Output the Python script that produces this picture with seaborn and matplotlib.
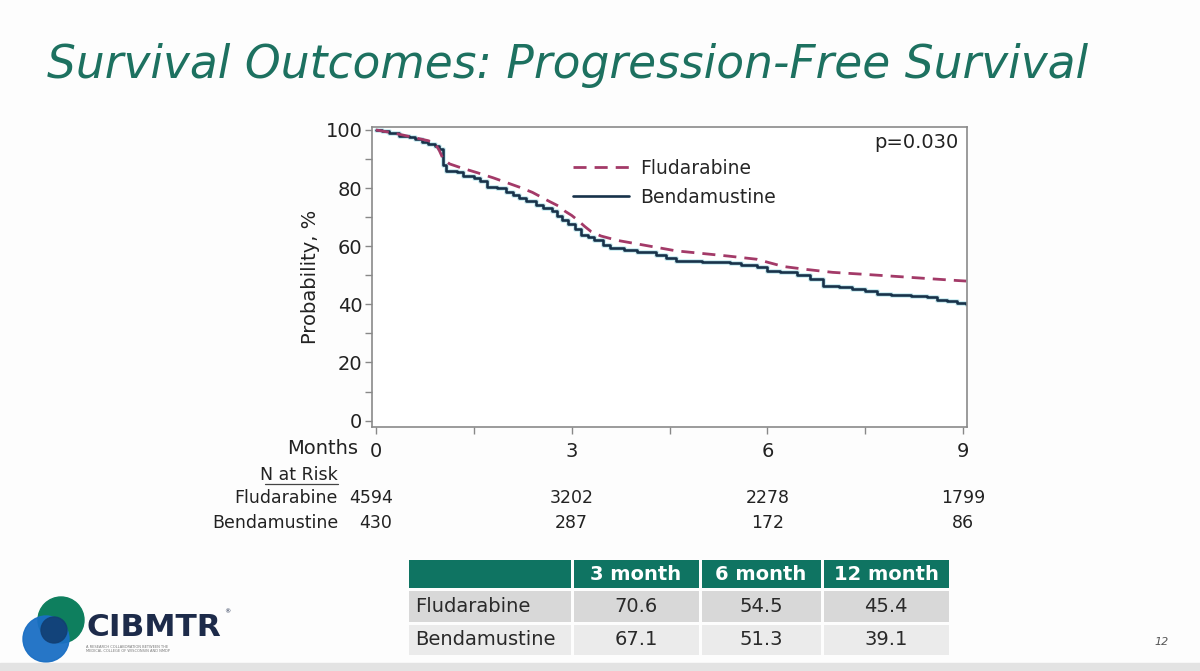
import matplotlib
matplotlib.use("Agg")
import matplotlib.pyplot as plt
import matplotlib.patches as mpatches
import matplotlib.transforms as mtransforms
import seaborn as sns
import pandas as pd
import numpy as np

# ---------------- data ----------------
flu_months = [0, 0.2, 0.4, 0.6, 0.8, 0.9, 0.97, 1.03, 1.13, 1.3, 1.55, 1.8, 2.0, 2.2, 2.4, 2.5,
              2.65, 2.8, 2.9, 3.0, 3.1, 3.2, 3.3, 3.45, 3.7, 4.0, 4.3, 4.6, 5.0, 5.4, 5.84, 6.0,
              6.25, 6.6, 7.0, 7.5, 8.04, 8.5, 8.9, 9.05]
flu_surv = [100, 99.2, 98.3, 97.3, 96.3, 95.5, 93, 90, 88.3, 87, 85.3, 83.5, 81.9, 80.3, 78.5, 77.3,
            75.5, 73.8, 72, 70.6, 68.8, 66.8, 65, 63.5, 62, 60.8, 59.6, 58.4, 57.5, 56.6, 55.5, 54.5,
            53, 52, 51, 50.3, 49.5, 48.8, 48.2, 48]

ben_months = [0, 0.1, 0.2, 0.35, 0.5, 0.6, 0.7, 0.8, 0.9, 0.97, 1.03, 1.08, 1.24, 1.34, 1.5, 1.6,
              1.7, 1.85, 2.0, 2.1, 2.2, 2.3, 2.45, 2.56, 2.7, 2.77, 2.85, 2.95, 3.05, 3.15, 3.25,
              3.35, 3.48, 3.59, 3.8, 4.0, 4.3, 4.45, 4.6, 5.0, 5.43, 5.6, 5.84, 6.0, 6.2, 6.45,
              6.66, 6.86, 7.1, 7.3, 7.5, 7.68, 7.9, 8.2, 8.45, 8.6, 8.75, 8.9, 9.05]
ben_surv = [100, 99.5, 99, 98, 97.5, 97, 96, 95.3, 94.5, 93.5, 88, 86, 85.5, 84, 83.5, 82.5,
            80.5, 80, 78.5, 77.5, 76.5, 75.5, 74, 73, 72, 70.5, 69, 67.5, 66, 64, 63,
            62, 60.5, 59.5, 58.7, 58, 57, 56, 55, 54.7, 54.2, 53.5, 52.7, 51.5, 51, 50,
            48.8, 46.2, 46, 45.3, 44.5, 43.6, 43.3, 43, 42.5, 41.4, 41, 40.4, 40.2]

risk_months = [0, 3, 6, 9]
risk_flu = ["4594", "3202", "2278", "1799"]
risk_ben = ["430", "287", "172", "86"]

table_cols = ["3 month", "6 month", "12 month"]
table_rows = ["Fludarabine", "Bendamustine"]
table_flu = ["70.6", "54.5", "45.4"]
table_ben = ["67.1", "51.3", "39.1"]

# ---------------- style ----------------
sns.set_style("white")
plt.rcParams["font.family"] = ["DejaVu Sans"]

W, H = 1200, 671
fig = plt.figure(figsize=(12, 6.71), dpi=100)
fig.patch.set_facecolor("#fdfdfd")

def fx(px):
    return px / W

def fy(py):
    return 1 - py / H

# slide frame (grey strip bottom)
fig.add_artist(mpatches.Rectangle((0, 0), 1, fy(663), transform=fig.transFigure,
                                  color="#e3e3e3", zorder=0))

# title
fig.text(fx(47), fy(66), "Survival Outcomes: Progression-Free Survival", fontsize=32.8,
         style="italic", color="#1d7160", ha="left", va="center")

# ---------------- chart ----------------
ax = fig.add_axes([fx(372), fy(427), fx(967 - 372), (427 - 127) / H])
df_flu = pd.DataFrame({"month": flu_months, "surv": flu_surv})
df_ben = pd.DataFrame({"month": ben_months, "surv": ben_surv})

sns.lineplot(data=df_ben, x="month", y="surv", ax=ax, color="#8fd6e0", lw=3.5, alpha=0.45,
             drawstyle="steps-post", legend=False)
sns.lineplot(data=df_ben, x="month", y="surv", ax=ax, color="#17324a", lw=1.9,
             drawstyle="steps-post", label="Bendamustine")
sns.lineplot(data=df_flu, x="month", y="surv", ax=ax, color="#a33a68", lw=2.0,
             label="Fludarabine")
ax.lines[-1].set_dashes([4.7, 2.9])

ax.set_xlim(-0.06, 9.06)
ax.set_ylim(-2.2, 101)
ax.set_xticks([0, 3, 6, 9])
ax.set_xticks([1.5, 4.5, 7.5], minor=True)
ax.set_yticks([0, 20, 40, 60, 80, 100])
ax.set_yticks([10, 30, 50, 70, 90], minor=True)
ax.tick_params(axis="both", which="both", direction="out", color="#888888", length=5,
               width=1, labelsize=14, labelcolor="#222222", bottom=True, left=True)
ax.tick_params(axis="x", pad=6)
ax.tick_params(axis="y", pad=2)
ax.set_xlabel("")
ax.set_ylabel("Probability, %", fontsize=14, color="#222222", labelpad=4)
for s in ax.spines.values():
    s.set_color("#8a8a8a")
    s.set_linewidth(1.2)

handles, labels = ax.get_legend_handles_labels()
order = [labels.index("Fludarabine"), labels.index("Bendamustine")]
ax.legend([handles[i] for i in order], [labels[i] for i in order], loc="upper left",
          bbox_to_anchor=(0.325, 0.92), frameon=False, fontsize=13.5, handlelength=3.0,
          handletextpad=0.6, labelspacing=0.55, borderaxespad=0)

ax.text(0.985, 0.98, "p=0.030", transform=ax.transAxes, ha="right", va="top",
        fontsize=14, color="#222222")

# Months label + number at risk
trans = mtransforms.blended_transform_factory(ax.transData, fig.transFigure)
fig.text(fx(358), fy(449), "Months", ha="right", va="center", fontsize=14, color="#222222")
fig.text(fx(338), fy(475), "N at Risk", ha="right", va="center", fontsize=12.5,
         color="#222222")
fig.add_artist(plt.Line2D([fx(265), fx(338)], [fy(484), fy(484)], transform=fig.transFigure,
                          color="#444444", lw=0.9))
fig.text(fx(338), fy(498), "Fludarabine", ha="right", va="center", fontsize=12.5,
         color="#222222")
fig.text(fx(338), fy(523), "Bendamustine", ha="right", va="center", fontsize=12.5,
         color="#222222")
for m, a, b in zip(risk_months, risk_flu, risk_ben):
    dx = -0.08 if m == 0 else 0
    ax.text(m + dx, fy(498), a, transform=trans, ha="center", va="center", fontsize=12.5,
            color="#222222")
    ax.text(m, fy(523), b, transform=trans, ha="center", va="center", fontsize=12.5,
            color="#222222")

# ---------------- summary table ----------------
col_edges = [407, 572, 700, 822, 950]
row_edges = [558, 589, 623, 656]
header_color = "#0f7462"
row_colors = ["#d8d8d8", "#ebebeb"]
gap = 1.5
for r in range(3):
    for c in range(4):
        x0, x1 = col_edges[c], col_edges[c + 1]
        y0, y1 = row_edges[r], row_edges[r + 1]
        color = header_color if r == 0 else row_colors[r - 1]
        fig.add_artist(mpatches.Rectangle((fx(x0 + gap), fy(y1 - gap)), fx(x1 - x0 - 2 * gap),
                                          (y1 - y0 - 2 * gap) / H, transform=fig.transFigure,
                                          color=color, lw=0))
for c, t in enumerate(table_cols):
    xc = (col_edges[c + 1] + col_edges[c + 2]) / 2
    fig.text(fx(xc), fy(574), t, ha="center", va="center", fontsize=14, fontweight="bold",
             color="white")
for r, (name, vals) in enumerate(zip(table_rows, [table_flu, table_ben])):
    yc = (row_edges[r + 1] + row_edges[r + 2]) / 2
    fig.text(fx(415), fy(yc), name, ha="left", va="center", fontsize=14, color="#2a2a2a")
    for c, v in enumerate(vals):
        xc = (col_edges[c + 1] + col_edges[c + 2]) / 2
        fig.text(fx(xc), fy(yc), v, ha="center", va="center", fontsize=14, color="#2a2a2a")

# ---------------- logo ----------------
logo = fig.add_axes([0, 0, 1, 1], zorder=-1)
logo.set_xlim(0, W)
logo.set_ylim(H, 0)
logo.axis("off")
logo.add_patch(mpatches.Circle((61, 620), 23, color="#0e7f5e"))
logo.add_patch(mpatches.Circle((46, 639), 23, color="#1a6fc4", alpha=0.95))
logo.add_patch(mpatches.Circle((54, 630), 13, color="#123f73", alpha=0.9))
logo.text(86, 627, "CIBMTR", fontsize=22.5, fontweight="bold", color="#1d2b4a",
          ha="left", va="center")
logo.text(224, 612, "®", fontsize=4.5, color="#1d2b4a", ha="left", va="center")
logo.text(86, 649, "A RESEARCH COLLABORATION BETWEEN THE\nMEDICAL COLLEGE OF WISCONSIN AND NMDP",
          fontsize=2.6, color="#777777", ha="left", va="center", linespacing=1.3)
logo.text(1162, 642, "12", fontsize=8, style="italic", color="#555555", ha="center", va="center")

fig.savefig("out.png", dpi=100, facecolor=fig.get_facecolor())
